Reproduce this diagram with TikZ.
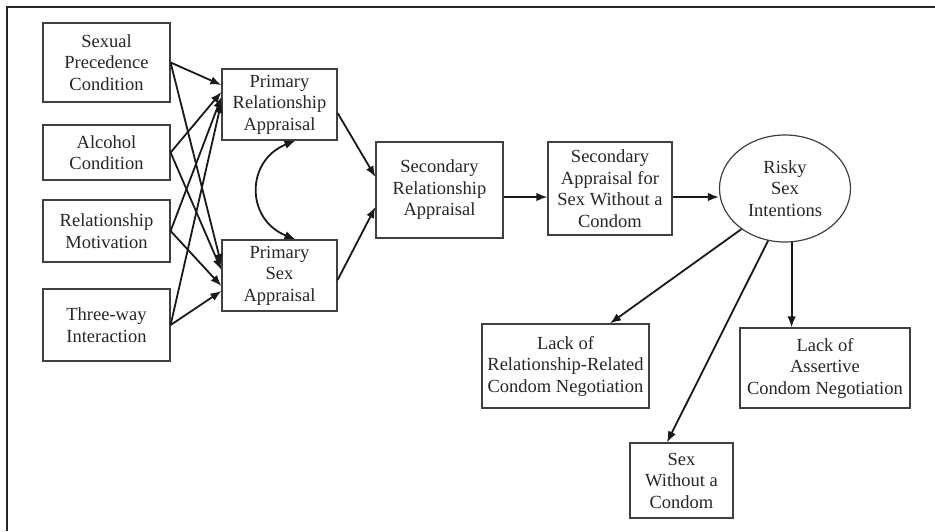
\documentclass[tikz,border=0pt]{standalone}
\usepackage{fontspec}
\setmainfont{Liberation Serif}
\usetikzlibrary{shapes,arrows.meta,positioning}

\begin{document}
\begin{tikzpicture}[x=1pt,y=-1pt, >={Latex[length=11pt,width=8.5pt]},
  every node/.style={font=\fontsize{18.5}{21.5}\selectfont, text=black!85, align=center, inner sep=0pt},
  box/.style={draw=black!75, line width=1.2pt},
  link/.style={->, draw=black!90, line width=1.8pt}]
\useasboundingbox (0,0) rectangle (935,531);
\draw[black!85, line width=1.6pt] (7,531) -- (7,7) -- (935,7);
% predictors
\node[box, minimum width=127, minimum height=79](sp) at (106.5,62.5){Sexual\\Precedence\\Condition};
\node[box, minimum width=127, minimum height=55](alc) at (106.5,152.5){Alcohol\\Condition};
\node[box, minimum width=127, minimum height=62](rm) at (106.5,231){Relationship\\Motivation};
\node[box, minimum width=127, minimum height=72](tw) at (106.5,325){Three-way\\Interaction};
% appraisals
\node[box, minimum width=115, minimum height=71](pra) at (279.5,104.5){Primary\\Relationship\\Appraisal};
\node[box, minimum width=115, minimum height=71](psa) at (279.5,275.5){Primary\\Sex\\Appraisal};
\node[box, minimum width=127, minimum height=96](sra) at (439.5,190){Secondary\\Relationship\\Appraisal};
\node[box, minimum width=124, minimum height=93](sas) at (610,188.5){Secondary\\Appraisal for\\Sex Without a\\Condom};
\node[ellipse, box, minimum width=131, minimum height=107](ell) at (785,188.5){Risky\\Sex\\Intentions};
% outcomes
\node[box, minimum width=167, minimum height=84](lrr) at (565.5,366){Lack of\\Relationship-Related\\Condom Negotiation};
\node[box, minimum width=170, minimum height=80](lac) at (825,368){Lack of\\Assertive\\Condom Negotiation};
\node[box, minimum width=103, minimum height=75](swc) at (681.5,480.5){Sex\\Without a\\Condom};

\draw[link] (sp.east) -- ([yshift=19.5pt]pra.west);
\draw[link] (alc.east) -- ([yshift=12.5pt]pra.west);
\draw[link] (rm.east) -- ([yshift=7.5pt]pra.west);
\draw[link] (tw.east) -- ([yshift=2.5pt]pra.west);
\draw[link] (sp.east) -- ([yshift=10.5pt]psa.west);
\draw[link] (alc.east) -- ([yshift=5.5pt]psa.west);
\draw[link] (rm.east) -- ([yshift=-10.5pt]psa.west);
\draw[link] (tw.east) -- ([yshift=-15.5pt]psa.west);
\draw[link, <->] ([xshift=16pt]pra.south) .. controls +(-50,20) and +(-50,-20) .. ([xshift=16pt]psa.north);
\draw[link] ([yshift=-8.5pt]pra.east) -- ([yshift=13pt]sra.west);
\draw[link] ([yshift=-4.5pt]psa.east) -- ([yshift=-17pt]sra.west);
\draw[link] ([yshift=-7pt]sra.east) -- ([yshift=-8.5pt]sas.west);
\draw[link] ([yshift=-8.5pt]sas.east) -- ([yshift=-8.5pt]ell.west);
\draw[link] (ell.-137) -- ([xshift=44.5pt]lrr.north);
\draw[link] (ell.-108) -- ([xshift=-14.5pt]swc.north);
\draw[link] (ell.-83) -- (ell.-83 |- lac.north);
\end{tikzpicture}
\end{document}
